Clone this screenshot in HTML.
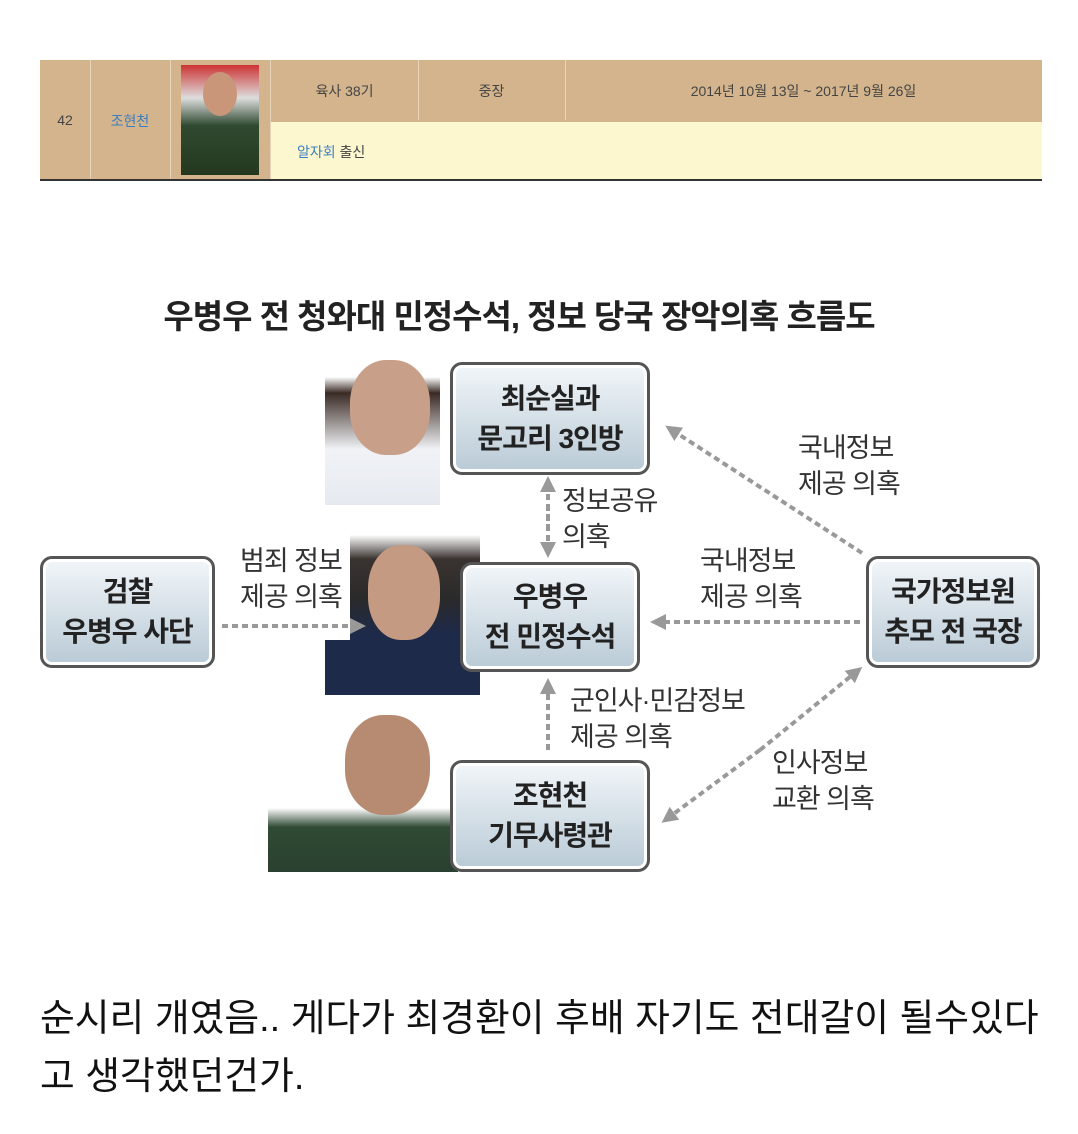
<!DOCTYPE html>
<html><head><meta charset="utf-8"><style>
body{margin:0;width:1078px;height:1134px;background:#fff;font-family:"Liberation Sans","Noto Sans CJK KR",sans-serif;position:relative;overflow:hidden}
.a{position:absolute}
.tb{position:absolute;left:40px;top:60px;width:1002px;height:119px;background:#d4b48c;border-bottom:2px solid #333}
.c{position:absolute;font-size:14px;color:#444;text-align:center}
.v{position:absolute;top:0;width:1px;height:119px;background:#e8d4b8}
.box{position:absolute;border:3px solid #555;border-radius:12px;background:linear-gradient(#f2f6f9,#b9cad6);box-shadow:inset 0 0 0 3px #fff;display:flex;align-items:center;justify-content:center;text-align:center;font-size:28px;line-height:40px;color:#222;font-weight:bold;letter-spacing:-1px}
.lb{position:absolute;font-size:27px;line-height:36px;color:#333;letter-spacing:-1px;z-index:5}
</style></head><body>
<div class="tb">
 <div class="v" style="left:50px"></div><div class="v" style="left:130px"></div><div class="v" style="left:230px"></div>
 <div class="a" style="left:231px;top:62px;width:771px;height:57px;background:#fdf7d0"></div>
 <div class="v" style="left:378px;height:60px"></div><div class="v" style="left:525px;height:60px"></div>
 <div class="c" style="left:0;width:50px;top:52px">42</div>
 <div class="c" style="left:50px;width:80px;top:51px;color:#3a7fc0">조현천</div>
 <div class="a" style="left:141px;top:5px;width:78px;height:110px;background:linear-gradient(#c33 0,#ddd 30%,#2f4a30 55%,#24381f)"></div>
 <div class="a" style="left:163px;top:12px;width:34px;height:44px;border-radius:50%;background:#c9967a"></div>
 <div class="c" style="left:231px;width:147px;top:21px">육사 38기</div>
 <div class="c" style="left:378px;width:147px;top:21px">중장</div>
 <div class="c" style="left:525px;width:477px;top:21px">2014년 10월 13일 ~ 2017년 9월 26일</div>
 <div class="c" style="left:257px;top:82px;text-align:left"><span style="color:#3a7fc0">알자회</span> 출신</div>
</div>

<div class="a" style="left:40px;top:290px;width:958px;text-align:center;font-size:33px;font-weight:bold;color:#222;letter-spacing:-1px">우병우 전 청와대 민정수석, 정보 당국 장악의혹 흐름도</div>

<div class="a" style="left:325px;top:345px;width:115px;height:160px;background:linear-gradient(#fff 0,#fff 20%,#3a2a24 30%,#f0f2f6 65%,#e6eaf0)"></div>
<div class="a" style="left:350px;top:360px;width:80px;height:95px;border-radius:45%;background:#c8a08a"></div>
<div class="a" style="left:350px;top:535px;width:130px;height:160px;background:linear-gradient(#fff 0,#3a3330 15%,#2a2a2a 40%,#1e2a4a 62%,#1e2a4a)"></div>
<div class="a" style="left:325px;top:640px;width:30px;height:55px;background:#1e2a4a"></div>
<div class="a" style="left:368px;top:545px;width:72px;height:95px;border-radius:45%;background:#c49a82"></div>
<div class="a" style="left:268px;top:712px;width:190px;height:160px;background:linear-gradient(transparent 0,transparent 60%,#2f4a34 72%,#2a4030)"></div>
<div class="a" style="left:345px;top:715px;width:85px;height:100px;border-radius:45%;background:#b78a72"></div>

<div class="box" style="left:450px;top:362px;width:194px;height:107px">최순실과<br>문고리 3인방</div>
<div class="box" style="left:40px;top:556px;width:169px;height:106px">검찰<br>우병우 사단</div>
<div class="box" style="left:460px;top:562px;width:174px;height:104px">우병우<br>전 민정수석</div>
<div class="box" style="left:866px;top:556px;width:168px;height:106px">국가정보원<br>추모 전 국장</div>
<div class="box" style="left:450px;top:760px;width:194px;height:106px">조현천<br>기무사령관</div>

<svg class="a" style="left:0;top:0" width="1078" height="1134">
<defs><marker id="m" markerWidth="4" markerHeight="4" refX="2" refY="2" orient="auto"><path d="M0,0L4,2L0,4z" fill="#999"/></marker></defs>
<g stroke="#999" stroke-width="4" stroke-dasharray="6,4" fill="none" marker-end="url(#m)">
<line x1="548" y1="530" x2="548" y2="484"/>
<line x1="548" y1="505" x2="548" y2="550"/>
<line x1="222" y1="626" x2="358" y2="626"/>
<line x1="860" y1="622" x2="658" y2="622"/>
<line x1="862" y1="553" x2="672" y2="430"/>
<line x1="548" y1="750" x2="548" y2="686"/>
<line x1="760" y1="750" x2="856" y2="672"/>
<line x1="760" y1="750" x2="668" y2="818"/>
</g></svg>

<div class="lb" style="left:562px;top:483px">정보공유<br>의혹</div>
<div class="lb" style="left:240px;top:543px">범죄 정보<br>제공 의혹</div>
<div class="lb" style="left:700px;top:543px">국내정보<br>제공 의혹</div>
<div class="lb" style="left:798px;top:430px">국내정보<br>제공 의혹</div>
<div class="lb" style="left:570px;top:683px">군인사·민감정보<br>제공 의혹</div>
<div class="lb" style="left:772px;top:745px">인사정보<br>교환 의혹</div>

<div class="a" style="left:40px;top:990px;font-size:37.8px;line-height:58px;color:#111;width:1040px;white-space:nowrap">순시리 개였음.. 게다가 최경환이 후배 자기도 전대갈이 될수있다<br>고 생각했던건가.</div>
</body></html>
